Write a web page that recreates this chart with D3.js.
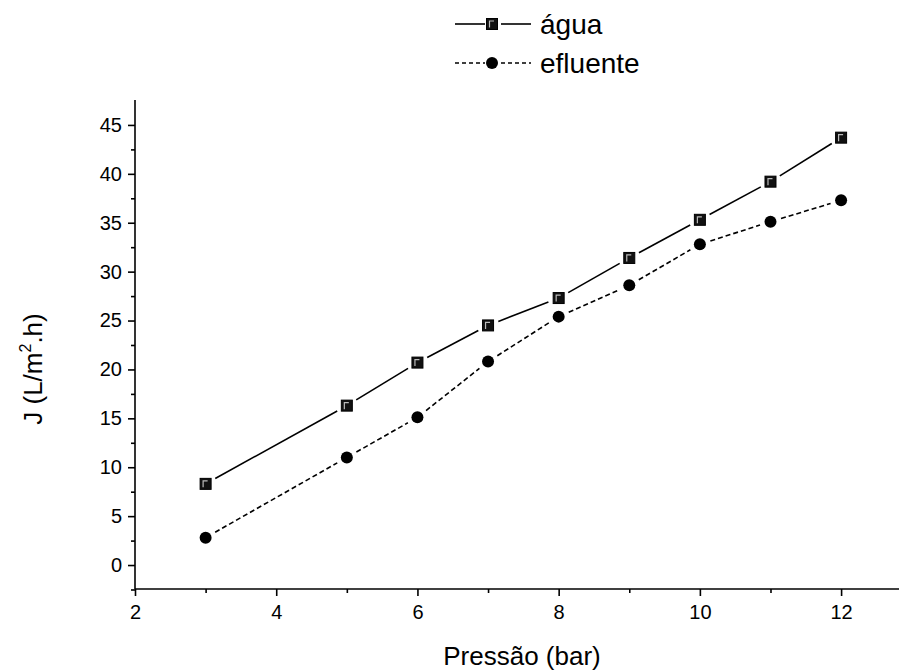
<!DOCTYPE html>
<html>
<head>
<meta charset="utf-8">
<script src="https://cdn.jsdelivr.net/npm/d3@7"></script>
<style>
  html, body { margin: 0; padding: 0; background: #fff; }
  svg text { font-family: "Liberation Sans", Arial, sans-serif; fill: #000; }
</style>
</head>
<body>
<svg id="chart" width="901" height="672"></svg>
<script>
// Flux versus applied pressure
const pressure = [3, 5, 6, 7, 8, 9, 10, 11, 12];
const agua = [8.3, 16.3, 20.7, 24.5, 27.3, 31.4, 35.3, 39.2, 43.7];
const efluente = [2.8, 11.0, 15.1, 20.8, 25.4, 28.6, 32.8, 35.1, 37.3];
const xTicks = [2, 4, 6, 8, 10, 12];
const yTicks = [0, 5, 10, 15, 20, 25, 30, 35, 40, 45];
const seriesNames = ["água", "efluente"];

const FONT = "Liberation Sans, Arial, sans-serif";
const svg = d3.select("#chart");

const x = d3.scaleLinear().domain([2, 12.82]).range([135, 899]);
const y = d3.scaleLinear().domain([-2.45, 47.55]).range([589, 100]);

// Axes
const xAxis = d3.axisBottom(x).tickValues(xTicks).tickSize(7).tickPadding(9).tickFormat(d3.format("d"));
const xMinor = d3.axisBottom(x).tickValues(d3.range(3, 13, 2)).tickSize(4).tickFormat("");
const yAxis = d3.axisLeft(y).tickValues(yTicks).tickSize(7).tickPadding(6).tickFormat(d3.format("d"));
const yMinor = d3.axisLeft(y).tickValues(d3.range(-2.5, 47.5, 5)).tickSize(4).tickFormat("");

function styleAxis(g) {
  g.attr("font-family", FONT).attr("font-size", 20);
  g.select(".domain").attr("stroke", "#000").attr("stroke-width", 1.6);
  g.selectAll(".tick line").attr("stroke", "#000").attr("stroke-width", 1.6);
  g.selectAll(".tick text").attr("fill", "#000");
}

svg.append("g").attr("transform", "translate(0,589)").call(xMinor).call(styleAxis).select(".domain").remove();
svg.append("g").attr("transform", "translate(0,589)").call(xAxis).call(g => {
  styleAxis(g);
  g.select(".domain").attr("d", `M${x.range()[0]},0H${x.range()[1]}`);
});
svg.append("g").attr("transform", "translate(135,0)").call(yMinor).call(styleAxis).select(".domain").remove();
svg.append("g").attr("transform", "translate(135,0)").call(yAxis).call(g => {
  styleAxis(g);
  g.select(".domain").attr("d", `M0,${y.range()[0]}V${y.range()[1]}`);
});

// Axis titles
svg.append("text")
  .attr("x", 522).attr("y", 665)
  .attr("text-anchor", "middle")
  .attr("font-size", 26)
  .text("Pressão (bar)");

const yt = svg.append("text")
  .attr("transform", "translate(42,369) rotate(-90)")
  .attr("text-anchor", "middle")
  .attr("font-size", 26);
yt.append("tspan").text("J (L/m");
yt.append("tspan").attr("font-size", 16).attr("dy", -11).text("2");
yt.append("tspan").attr("dy", 11).text(".h)");

// Markers
function squareMarker(g, cx, cy) {
  g.append("rect").attr("x", cx - 5.5).attr("y", cy - 5.5).attr("width", 11).attr("height", 11)
    .attr("fill", "#111").attr("stroke", "#000").attr("stroke-width", 1);
  g.append("path").attr("d", `M${cx - 2.5},${cy + 3.5}V${cy - 3}H${cx + 2}`)
    .attr("fill", "none").attr("stroke", "#bbb").attr("stroke-width", 1.2);
}
function circleMarker(g, cx, cy) {
  g.append("circle").attr("cx", cx).attr("cy", cy).attr("r", 6).attr("fill", "#000");
}

// Series: segments leave a small gap around each marker
function drawSeries(xs, ys, dash, marker) {
  const g = svg.append("g");
  const pts = xs.map((v, i) => [x(v), y(ys[i])]);
  const gap = 11;
  for (let i = 0; i < pts.length - 1; i++) {
    const [x0, y0] = pts[i], [x1, y1] = pts[i + 1];
    const len = Math.hypot(x1 - x0, y1 - y0);
    const ux = (x1 - x0) / len, uy = (y1 - y0) / len;
    g.append("path")
      .attr("d", d3.line()([[x0 + ux * gap, y0 + uy * gap], [x1 - ux * gap, y1 - uy * gap]]))
      .attr("fill", "none").attr("stroke", "#000").attr("stroke-width", 1.6)
      .attr("stroke-dasharray", dash);
  }
  pts.forEach(p => marker(g, p[0], p[1]));
}
drawSeries(pressure, agua, null, squareMarker);
drawSeries(pressure, efluente, "5,3", circleMarker);

// Legend
const legend = svg.append("g");
const legendRows = [
  { name: seriesNames[0], dash: null, marker: squareMarker, cy: 24 },
  { name: seriesNames[1], dash: "4,3", marker: circleMarker, cy: 63 }
];
legendRows.forEach(r => {
  legend.append("line").attr("x1", 455).attr("x2", 485).attr("y1", r.cy).attr("y2", r.cy)
    .attr("stroke", "#000").attr("stroke-width", 1.6).attr("stroke-dasharray", r.dash);
  legend.append("line").attr("x1", 501).attr("x2", 531).attr("y1", r.cy).attr("y2", r.cy)
    .attr("stroke", "#000").attr("stroke-width", 1.6).attr("stroke-dasharray", r.dash);
  r.marker(legend, 492, r.cy);
  legend.append("text").attr("x", 540).attr("y", r.cy + 10).attr("font-size", 28).text(r.name);
});
</script>
</body>
</html>
